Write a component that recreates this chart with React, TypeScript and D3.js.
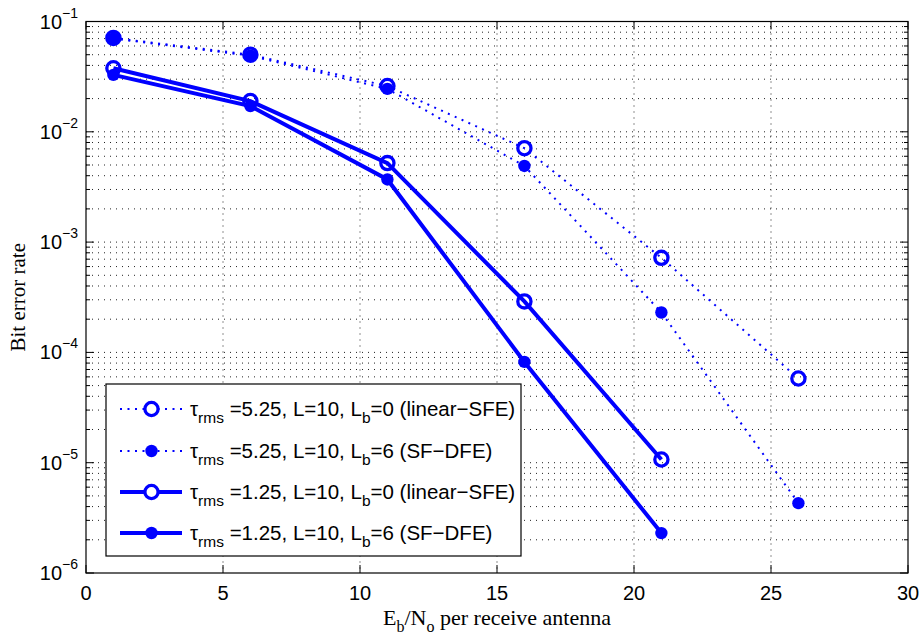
import React from "react";
import * as d3 from "d3";

const xValues = [1, 6, 11, 16, 21, 26];
const s1Values = [0.071, 0.05, 0.026, 0.0071, 7.2e-4, 5.8e-5]; // tau 5.25, Lb=0 linear-SFE
const s2Values = [0.07, 0.049, 0.0245, 0.0049, 2.3e-4, 4.3e-6]; // tau 5.25, Lb=6 SF-DFE
const xValues2 = [1, 6, 11, 16, 21];
const s3Values = [0.0377, 0.019, 0.0052, 2.9e-4, 1.07e-5]; // tau 1.25, Lb=0
const s4Values = [0.0328, 0.0171, 0.0037, 8.2e-5, 2.3e-6]; // tau 1.25, Lb=6

const xTicks = [0, 5, 10, 15, 20, 25, 30];
const yTickExps = [-1, -2, -3, -4, -5, -6];

const legendTau = ["5.25", "5.25", "1.25", "1.25"];
const legendLb = ["0", "6", "0", "6"];
const legendTail = ["(linear\u2212SFE)", "(SF\u2212DFE)", "(linear\u2212SFE)", "(SF\u2212DFE)"];

const W = 922, H = 637;
const L = 86, R = 908, T = 21.5, B = 573;
const BLUE = "#0000ff";

export default function App() {
  const x = d3.scaleLinear().domain([0, 30]).range([L, R]);
  const y = d3.scaleLog().domain([1e-6, 1e-1]).range([B, T]);
  const line = d3.line<[number, number]>().x(d => x(d[0])).y(d => y(d[1]));

  const minor: number[] = [];
  for (let e = -6; e < -1; e++) for (let k = 2; k <= 9; k++) minor.push(k * Math.pow(10, e));
  const majors = yTickExps.map(e => Math.pow(10, e));

  const s1 = xValues.map((v, i) => [v, s1Values[i]] as [number, number]);
  const s2 = xValues.map((v, i) => [v, s2Values[i]] as [number, number]);
  const s3 = xValues2.map((v, i) => [v, s3Values[i]] as [number, number]);
  const s4 = xValues2.map((v, i) => [v, s4Values[i]] as [number, number]);

  const gridStyle = { stroke: "#222", strokeWidth: 1, strokeDasharray: "1,5" };
  const sans = "'Liberation Sans', Arial, sans-serif";
  const serif = "'Liberation Serif', 'Times New Roman', serif";

  const legX = 106, legY = 384, legW = 415, legH = 172;
  const rowY = [409, 451, 492, 533];

  return (
    <svg width={W} height={H} style={{ position: "absolute", left: 0, top: 0, background: "#fff" }}>
      <rect x={0} y={0} width={W} height={H} fill="#fff" />
      {/* grid */}
      <g>
        {xTicks.slice(1, -1).map(t => (
          <line key={"gx" + t} x1={x(t)} x2={x(t)} y1={T} y2={B} {...gridStyle} />
        ))}
        {[...minor, ...majors.slice(1, -1)].map((v, i) => (
          <line key={"gy" + i} x1={L} x2={R} y1={y(v)} y2={y(v)} {...gridStyle} />
        ))}
      </g>
      {/* ticks */}
      <g stroke="#000" strokeWidth={1}>
        {xTicks.map(t => (
          <g key={"tx" + t}>
            <line x1={x(t)} x2={x(t)} y1={B} y2={B - 8} />
            <line x1={x(t)} x2={x(t)} y1={T} y2={T + 8} />
          </g>
        ))}
        {majors.map((v, i) => (
          <g key={"ty" + i}>
            <line x1={L} x2={L + 8} y1={y(v)} y2={y(v)} />
            <line x1={R} x2={R - 8} y1={y(v)} y2={y(v)} />
          </g>
        ))}
        {minor.map((v, i) => (
          <g key={"tm" + i}>
            <line x1={L} x2={L + 4} y1={y(v)} y2={y(v)} />
            <line x1={R} x2={R - 4} y1={y(v)} y2={y(v)} />
          </g>
        ))}
      </g>
      {/* series */}
      <g fill="none" stroke={BLUE}>
        <path d={line(s1) || ""} strokeWidth={2} strokeDasharray="2,5.5" />
        <path d={line(s2) || ""} strokeWidth={2} strokeDasharray="2,5.5" />
        <path d={line(s3) || ""} strokeWidth={4} />
        <path d={line(s4) || ""} strokeWidth={4} />
      </g>
      <g>
        {s1.map((d, i) => (
          <circle key={"m1" + i} cx={x(d[0])} cy={y(d[1])} r={6.6} fill="none" stroke={BLUE} strokeWidth={3.3} />
        ))}
        {s2.map((d, i) => (
          <circle key={"m2" + i} cx={x(d[0])} cy={y(d[1])} r={6.2} fill={BLUE} />
        ))}
        {s3.map((d, i) => (
          <circle key={"m3" + i} cx={x(d[0])} cy={y(d[1])} r={6.6} fill="none" stroke={BLUE} strokeWidth={3.3} />
        ))}
        {s4.map((d, i) => (
          <circle key={"m4" + i} cx={x(d[0])} cy={y(d[1])} r={6.2} fill={BLUE} />
        ))}
      </g>
      {/* axes box */}
      <rect x={L} y={T} width={R - L} height={B - T} fill="none" stroke="#000" strokeWidth={1.2} />
      {/* tick labels */}
      <g fontFamily={sans} fontSize={20} fill="#000">
        {xTicks.map(t => (
          <text key={"lx" + t} x={x(t)} y={600} textAnchor="middle">{t}</text>
        ))}
        {yTickExps.map(e => (
          <text key={"ly" + e} x={78} y={y(Math.pow(10, e)) + 7} textAnchor="end">
            10<tspan dy={-11} fontSize={14}>{"\u2212" + Math.abs(e)}</tspan>
          </text>
        ))}
      </g>
      {/* axis labels */}
      <text x={(L + R) / 2} y={625} textAnchor="middle" fontFamily={serif} fontSize={22} fill="#000">
        E<tspan dy={7} fontSize={16}>b</tspan><tspan dy={-7}>/N</tspan><tspan dy={7} fontSize={16}>o</tspan><tspan dy={-7}> per receive antenna</tspan>
      </text>
      <text transform={`translate(25,${(T + B) / 2}) rotate(-90)`} textAnchor="middle" fontFamily={serif} fontSize={21} fill="#000">
        Bit error rate
      </text>
      {/* legend */}
      <rect x={legX} y={legY} width={legW} height={legH} fill="#fff" stroke="#000" strokeWidth={1.2} />
      {rowY.map((ry, i) => (
        <g key={"leg" + i}>
          <line x1={120} x2={182} y1={ry} y2={ry} stroke={BLUE} strokeWidth={i < 2 ? 2 : 4} strokeDasharray={i < 2 ? "2,5.5" : undefined} />
          {i % 2 === 0 ? (
            <circle cx={151.5} cy={ry} r={6.6} fill="#fff" stroke={BLUE} strokeWidth={3.3} />
          ) : (
            <circle cx={151.5} cy={ry} r={6.2} fill={BLUE} />
          )}
          <text x={190} y={ry + 7} fontFamily={sans} fontSize={20.5} fill="#000">
            τ<tspan dy={7} fontSize={15.5}>rms</tspan><tspan dy={-7}>{" =" + legendTau[i] + ", L=10, L"}</tspan><tspan dy={7} fontSize={15.5}>b</tspan><tspan dy={-7}>{"=" + legendLb[i] + " " + legendTail[i]}</tspan>
          </text>
        </g>
      ))}
    </svg>
  );
}
